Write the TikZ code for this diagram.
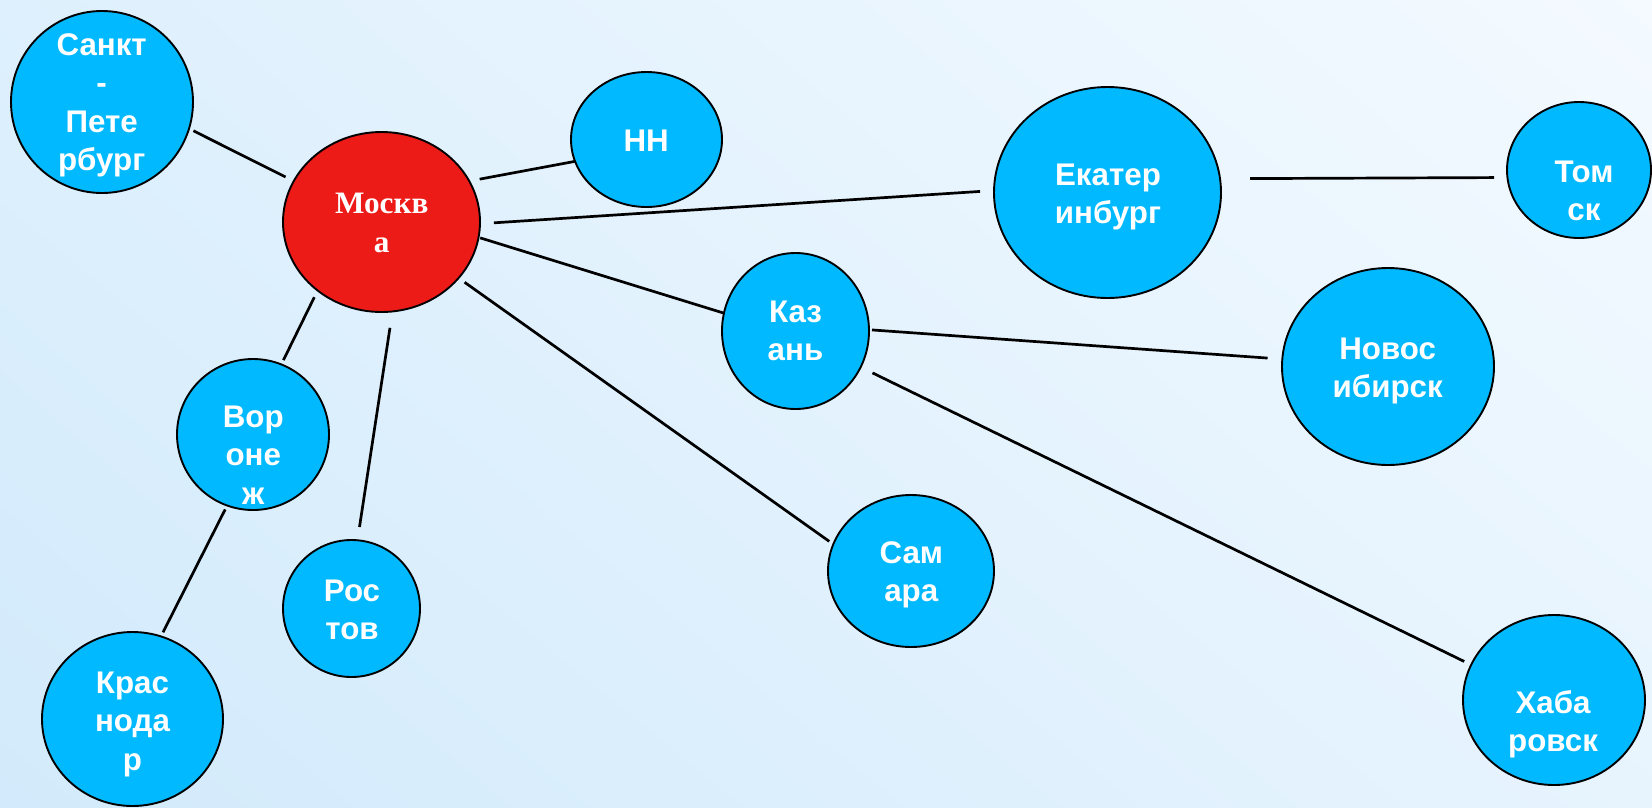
\documentclass[tikz,border=0pt]{standalone}
\usepackage{fontspec}
\setmainfont{Liberation Sans}
\newfontfamily\mskfont{Liberation Serif}
\usetikzlibrary{shapes.geometric,shadings}
\definecolor{cityblue}{RGB}{0,185,255}
\definecolor{mskred}{RGB}{237,27,23}
\definecolor{bgUL}{RGB}{222,240,253}
\definecolor{bgLL}{RGB}{210,234,251}
\definecolor{bgUR}{RGB}{244,250,255}
\definecolor{bgLR}{RGB}{231,244,254}
\newcommand{\citylines}[1]{\begin{tabular}[t]{@{}c@{}}#1\end{tabular}}
\begin{document}
\begin{tikzpicture}[x=1pt,y=-1pt,
  city/.style={ellipse, draw=black, line width=1.9pt, fill=cityblue, inner sep=0pt, outer sep=0pt},
  lbl/.style={anchor=base, inner sep=0pt, outer sep=0pt, text=white,
    font=\fontsize{31.3}{38.5}\selectfont\bfseries},
  mlbl/.style={lbl, font=\fontsize{31.2}{39}\selectfont\mskfont\bfseries},
  link/.style={draw=black, line width=2.7pt}]
\useasboundingbox (0,0) rectangle (1652,807);
\shade[upper left=bgUL, upper right=bgUR, lower left=bgLL, lower right=bgLR] (0,0) rectangle (1652,807);

% city ellipses
\node[city, minimum width=182pt, minimum height=182pt] (spb) at (102,102) {};
\node[city, fill=mskred, minimum width=197pt, minimum height=180pt] (msk) at (381.5,222) {};
\node[city, minimum width=151pt, minimum height=135pt] (nn) at (646.5,139.5) {};
\node[city, minimum width=227pt, minimum height=211pt] (ekat) at (1107.5,192.5) {};
\node[city, minimum width=144pt, minimum height=136pt] (tomsk) at (1579,170) {};
\node[city, minimum width=147pt, minimum height=156pt] (kaz) at (795.5,331) {};
\node[city, minimum width=212pt, minimum height=197pt] (novo) at (1388,366.5) {};
\node[city, minimum width=152pt, minimum height=151pt] (vor) at (253,434.5) {};
\node[city, minimum width=137pt, minimum height=137pt] (ros) at (351.5,608.5) {};
\node[city, minimum width=166pt, minimum height=152pt] (sam) at (911,571) {};
\node[city, minimum width=181pt, minimum height=174pt] (kras) at (132.5,719) {};
\node[city, minimum width=182pt, minimum height=170pt] (khab) at (1554,700) {};

% labels
\node[lbl] (spbT) at (101.7,55) {\citylines{Санкт\\-\\Пете\\рбург}};
\node[mlbl] (mskT) at (381.7,213) {\citylines{Москв\\а}};
\node[lbl] (nnT) at (646.2,151) {НН};
\node[lbl] (ekatT) at (1108,185) {\citylines{Екатер\\инбург}};
\node[lbl] (tomskT) at (1584,182) {\citylines{Том\\ск}};
\node[lbl] (kazT) at (795.5,322.3) {\citylines{Каз\\ань}};
\node[lbl] (novoT) at (1387.7,359) {\citylines{Новос\\ибирск}};
\node[lbl] (vorT) at (253.3,427) {\citylines{Вор\\оне\\ж}};
\node[lbl] (rosT) at (352,601) {\citylines{Рос\\тов}};
\node[lbl] (samT) at (911.3,563) {\citylines{Сам\\ара}};
\node[lbl] (krasT) at (132.5,693) {\citylines{Крас\\нода\\р}};
\node[lbl] (khabT) at (1553,713) {\citylines{Хаба\\ровск}};

% connectors
\draw[link, shorten <=4.9pt, shorten >=9.2pt] (spb.-17.80) -- (msk.155.68);
\draw[link, shorten <=10.6pt] (msk.25.87) -- (nn.197.10);
\draw[link, shorten <=14pt, shorten >=14pt] (msk.-1.09) -- (ekat.179.82);
\draw[link, shorten <=30.2pt, shorten >=13.4pt] (ekat.7.86) -- (tomsk.-174.42);
\draw[link, shorten <=1.7pt, shorten >=0.75pt] (msk.-9.66) -- (kaz.166.84);
\draw[link, shorten <=3pt, shorten >=14.8pt] (kaz.1.74) -- (novo.176.55);
\draw[link, shorten <=13.2pt, shorten >=7.7pt] (kaz.-29.94) -- (khab.157.37);
\draw[link, shorten <=7.5pt, shorten >=4.8pt] (msk.-133.23) -- (vor.68.33);
\draw[link, shorten <=16.6pt, shorten >=13.4pt] (msk.-83.64) -- (ros.85.39);
\draw[link, shorten <=7.4pt, shorten >=5pt] (msk.-36.57) -- (sam.161.48);
\draw[link, shorten <=4.4pt, shorten >=4.6pt] (vor.-110.95) -- (kras.71.69);
\end{tikzpicture}
\end{document}
